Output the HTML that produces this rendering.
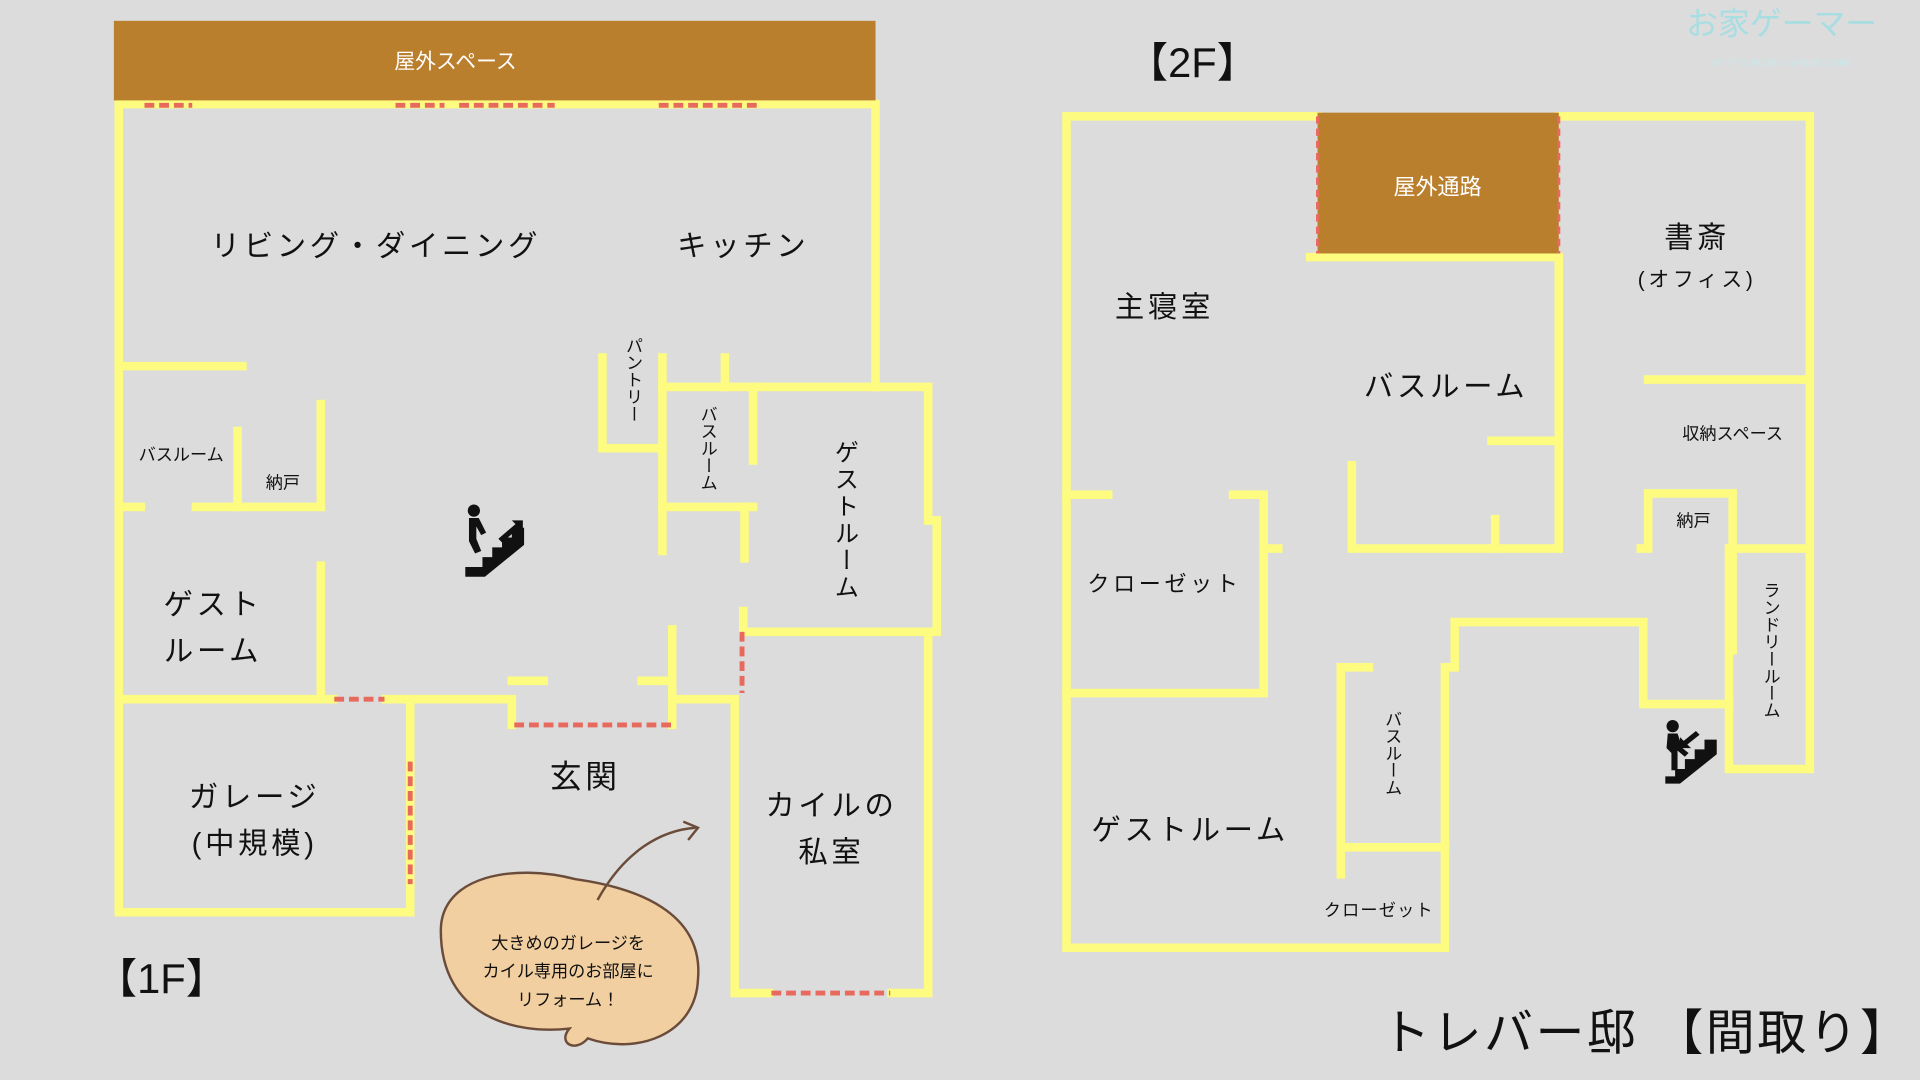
<!DOCTYPE html>
<html><head><meta charset="utf-8"><style>
html,body{margin:0;padding:0;background:#dcdcdc;}
svg{display:block}
text{font-family:"Liberation Sans","Noto Sans CJK JP",sans-serif;fill:#111;}
.big{letter-spacing:3px}
</style></head><body>
<svg width="1920" height="1080" viewBox="0 0 1568 882" xmlns="http://www.w3.org/2000/svg">
<rect width="1568" height="882" fill="#dcdcdc"/>
<g stroke="#fdfb80" stroke-width="7" fill="none" stroke-linecap="square">
<!-- 1F -->
<path d="M97 85 H715 V316"/>
<path d="M97 85 V745 H335 V572"/>
<path d="M97 299 H198"/>
<path d="M194 352 V414"/><path d="M262 330 V414 H160"/><path d="M97 414 H115"/>
<path d="M262 462 V571"/><path d="M97 571 H272"/><path d="M315 571 H418 V592"/><path d="M418 556 H444"/>
<path d="M524 556 H549"/><path d="M549 514 V592"/><path d="M549 571 H600 V811 H628"/><path d="M728 811 H758 V516"/>
<path d="M492 292 V366 H541"/><path d="M541 292 V450"/><path d="M592 292 V316"/><path d="M541 316 H758 V425 H765 V516 H607 V499"/>
<path d="M615 316 V376"/><path d="M541 414 H615"/><path d="M608 414 V456"/>
<!-- 2F -->
<path d="M1076 95 H871 V774 H1180 V545 H1188 V508 H1342 V575 H1412"/>
<path d="M1273 95 H1478 V628 H1412 V448 H1478"/>
<path d="M1070 210 H1273 V448 H1104 V380"/><path d="M1221 424 V448"/><path d="M1218 360 H1273"/>
<path d="M1346 310 H1478"/><path d="M1340 448 H1346 V403 H1415 V531"/>
<path d="M871 404 H905"/><path d="M1007 404 H1032 V566 H871"/><path d="M1032 448 H1044"/>
<path d="M1118 545 H1095 V714"/><path d="M1095 692 H1180"/>
</g>
<g stroke="#e86a5e" stroke-width="4" stroke-dasharray="8,4" fill="none">
<path d="M118 86 H157"/><path d="M323 86 H363"/><path d="M375 86 H453"/><path d="M538 86 H620"/>
<path d="M273 571 H314"/><path d="M335 622 V722"/><path d="M420 592 H548"/><path d="M630 811 H727"/><path d="M606 516 V566"/>
</g>
<rect x="93" y="17" width="622" height="65" fill="#ba7f2d"/>
<text x="372" y="56" font-size="17" text-anchor="middle" style="fill:#fff">屋外スペース</text>
<rect x="1076" y="92" width="197" height="115" fill="#ba7f2d"/>
<g stroke="#e86a5e" stroke-width="2.5" stroke-dasharray="6,4"><path d="M1076 95 V207"/><path d="M1273 95 V207"/></g>
<text x="1174" y="159" font-size="18" text-anchor="middle" style="fill:#fff">屋外通路</text>

<g text-anchor="middle">
<text class="big" x="307" y="209" font-size="24">リビング・ダイニング</text>
<text class="big" x="607" y="209" font-size="24">キッチン</text>
<text x="148" y="376" font-size="14">バスルーム</text>
<text x="231" y="399" font-size="14">納戸</text>
<text class="big" x="174" y="502" font-size="24">ゲスト</text>
<text class="big" x="174" y="540" font-size="24">ルーム</text>
<text class="big" x="208" y="659" font-size="24">ガレージ</text>
<text class="big" x="208" y="697" font-size="24">(中規模)</text>
<text class="big" x="478" y="643" font-size="26">玄関</text>
<text class="big" x="679" y="666" font-size="24">カイルの</text>
<text class="big" x="679" y="704" font-size="24">私室</text>
<text class="big" x="951" y="259" font-size="24">主寝室</text>
<text class="big" x="1386" y="202" font-size="24">書斎</text>
<text class="big" x="1386" y="234" font-size="17">(オフィス)</text>
<text class="big" x="1181" y="324" font-size="24">バスルーム</text>
<text x="1415" y="359" font-size="14">収納スペース</text>
<text x="1383" y="430" font-size="14">納戸</text>
<text class="big" x="951" y="483" font-size="18">クローゼット</text>
<text class="big" x="972" y="686" font-size="24">ゲストルーム</text>
<text x="1126" y="748" font-size="14" letter-spacing="1">クローゼット</text>
</g>
<g font-size="14" text-anchor="middle">
<text x="517" y="310" style="writing-mode:tb">パントリー</text>
<text x="578" y="366" style="writing-mode:tb">バスルーム</text>
<text x="1137" y="615" style="writing-mode:tb">バスルーム</text>
<text x="1446" y="531" style="writing-mode:tb">ランドリールーム</text>
<text x="690" y="425" font-size="20" style="writing-mode:tb" letter-spacing="2">ゲストルーム</text>
</g>
<text x="78" y="811" font-size="34">【1F】</text>
<text x="920" y="63" font-size="34">【2F】</text>
<text x="1128" y="857" font-size="40" letter-spacing="2">トレバー邸 【間取り】</text>
<text x="1455" y="28" font-size="26" text-anchor="middle" style="fill:#a8dde2">お家ゲーマー</text>
<text x="1455" y="54" font-size="8" text-anchor="middle" style="fill:#c8e8ea">HTTPS://HOME-GAMER.COM/</text>

<g fill="#111">
<circle cx="387" cy="417" r="5"/>
<path d="M383 423 h8 l6 12 -4 2 -4 -7 v10 l4 10 -5 2 -5 -10 z"/>
<path d="M380 471 h16 l32 -26 v-14 h-10 v8 h-8 v8 h-8 v8 h-8 v8 h-14 z"/>
<path d="M407 440 l14 -12 -3 -3 h9 v9 l-3 -3 -14 12 z"/>
<circle cx="1366" cy="593" r="5"/>
<path d="M1362 599 h8 l4 12 5 4 -3 3 -6 -5 v16 h-5 v-14 l-4 -4 z"/>
<path d="M1360 640 h12 l30 -24 v-12 h-10 v8 h-8 v8 h-8 v8 h-8 v6 h-8 z"/>
<path d="M1388 600 l-10 8 3 3 h-9 v-9 l3 3 10 -8 z"/>
</g>
<path d="M360 760 C360 715 420 705 470 718 C520 725 575 745 570 800 C568 845 520 862 480 848 C470 860 455 852 465 840 C420 845 360 830 360 760 Z" fill="#f2cfa1" stroke="#6b4c3a" stroke-width="2"/>
<path d="M488 735 C510 695 540 678 568 676" stroke="#6b4c3a" stroke-width="2" fill="none"/>
<path d="M558 671 L570 676 L562 686" stroke="#6b4c3a" stroke-width="2" fill="none"/>
<g font-size="14" text-anchor="middle">
<text x="464" y="775">大きめのガレージを</text>
<text x="464" y="798">カイル専用のお部屋に</text>
<text x="464" y="821">リフォーム！</text>
</g>
</svg>
</body></html>
